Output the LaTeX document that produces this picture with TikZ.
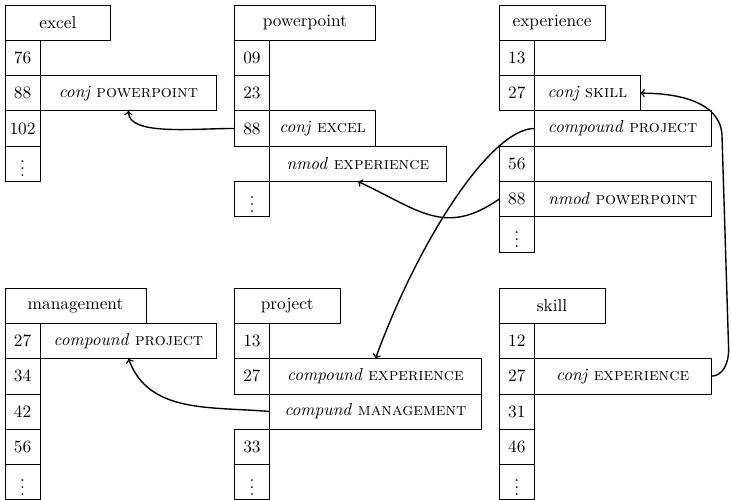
\documentclass[tikz,border=0pt]{standalone}
\usepackage{amsmath}
\usepackage{tikz}
\usetikzlibrary{positioning}
\usetikzlibrary{arrows}
\tikzstyle{arrow} = [thick,->,>=to]
\tikzstyle{word} = [draw, inner sep=0pt, outer sep=0pt, minimum height=0.717cm, minimum width=2.151cm]
\tikzstyle{longword} = [word, minimum width=2.868cm]
\tikzstyle{idx} = [draw, inner sep=0pt, outer sep=0pt, minimum height=0.717cm, minimum width=0.717cm]
\tikzstyle{rel} = [draw, inner sep=0pt, outer sep=0pt, minimum height=0.717cm]
\tikzstyle{relS} = [rel, minimum width=2.151cm]
\tikzstyle{relM} = [rel, minimum width=3.585cm]
\tikzstyle{relL} = [rel, minimum width=4.302cm]

\begin{document}
\begin{tikzpicture}
	\useasboundingbox (0,0) rectangle (14.85,-10.14);

	%Corners
	\coordinate (excelCorner) at (0.1,-0.1);
	\coordinate [right=4.66cm of excelCorner] (pptCorner);
	\coordinate [right=5.38cm of pptCorner] (expCorner);
	\coordinate [below=5.75cm of excelCorner] (mgmtCorner);
	\coordinate [below=5.75cm of pptCorner] (projCorner);
	\coordinate [below=5.75cm of expCorner] (skillCorner);

	%excel
	\node [word, below right=0cm and 0cm of excelCorner] (excelHead) {excel};
	\node [idx, below right=0cm and 0cm of excelHead.south west] (excel76) {76};
	\node [idx, below=0cm of excel76] (excel88) {88};
	\node [idx, below=0cm of excel88] (excel102) {102};
	\node [idx, below=0cm of excel102] (excelDots) {$\vdots$};
	\node [relM, right=0cm of excel88] (excelConj) {\textit{conj} \textsc{powerpoint}};

	%powerpoint
	\node [longword, below right=0cm and 0cm of pptCorner] (pptHead) {powerpoint};
	\node [idx, below right=0cm and 0cm of pptHead.south west] (ppt09) {09};
	\node [idx, below=0cm of ppt09] (ppt23) {23};
	\node [idx, below=0cm of ppt23] (ppt88) {88};
	\node [idx, below=0.717cm of ppt88] (pptDots) {$\vdots$};
	\node [relS, right=0cm of ppt88] (pptConj) {\textit{conj} \textsc{excel}};
	\node [relM, below right=0cm and 0cm of ppt88.south east] (pptNmod) {\textit{nmod} \textsc{experience}};

	%experience
	\node [word, below right=0cm and 0cm of expCorner] (expHead) {experience};
	\node [idx, below right=0cm and 0cm of expHead.south west] (exp13) {13};
	\node [idx, below=0cm of exp13] (exp27) {27};
	\node [idx, below=0.717cm of exp27] (exp56) {56};
	\node [idx, below=0cm of exp56] (exp88) {88};
	\node [idx, below=0cm of exp88] (expDots) {$\vdots$};
	\node [relS, right=0cm of exp27] (expConj) {\textit{conj} \textsc{skill}};
	\node [relM, below right=0cm and 0cm of exp27.south east] (expCompound) {\textit{compound} \textsc{project}};
	\node [relM, right=0cm of exp88] (expNmod) {\textit{nmod} \textsc{powerpoint}};

	%management
	\node [longword, below right=0cm and 0cm of mgmtCorner] (mgmtHead) {management};
	\node [idx, below right=0cm and 0cm of mgmtHead.south west] (mgmt27) {27};
	\node [idx, below=0cm of mgmt27] (mgmt34) {34};
	\node [idx, below=0cm of mgmt34] (mgmt42) {42};
	\node [idx, below=0cm of mgmt42] (mgmt56) {56};
	\node [idx, below=0cm of mgmt56] (mgmtDots) {$\vdots$};
	\node [relM, right=0cm of mgmt27] (mgmtCompound) {\textit{compound} \textsc{project}};

	%project
	\node [word, below right=0cm and 0cm of projCorner] (projHead) {project};
	\node [idx, below right=0cm and 0cm of projHead.south west] (proj13) {13};
	\node [idx, below=0cm of proj13] (proj27) {27};
	\node [idx, below=0.717cm of proj27] (proj33) {33};
	\node [idx, below=0cm of proj33] (projDots) {$\vdots$};
	\node [relL, right=0cm of proj27] (projCompound) {\textit{compound} \textsc{experience}};
	\node [relL, below right=0cm and 0cm of proj27.south east] (projCompund) {\textit{compund} \textsc{management}};

	%skill
	\node [word, below right=0cm and 0cm of skillCorner] (skillHead) {skill};
	\node [idx, below right=0cm and 0cm of skillHead.south west] (skill12) {12};
	\node [idx, below=0cm of skill12] (skill27) {27};
	\node [idx, below=0cm of skill27] (skill31) {31};
	\node [idx, below=0cm of skill31] (skill46) {46};
	\node [idx, below=0cm of skill46] (skillDots) {$\vdots$};
	\node [relM, right=0cm of skill27] (skillConj) {\textit{conj} \textsc{experience}};

	%Bends of the long arrow
	\coordinate [above right=0.53cm and 0.36cm of skillConj.east] (loopLow);
	\coordinate [below right=0.9cm and 1.66cm of expConj.east] (loopHigh);

	%Arrows
	\draw[arrow] (ppt88.west) to[out=180,in=-90,in looseness=0.6] (excelConj.south);
	\draw[arrow] (exp88.west) to[out=215,in=-25,looseness=1.2] (pptNmod.south);
	\draw[arrow] (expCompound.west) to[out=180,in=70,out looseness=0.4,in looseness=1.15] (projCompound.north);
	\draw[arrow] (projCompund.west) to[out=175,in=-70] (mgmtCompound.south);
	\draw[arrow] (skillConj.east) to[out=0,in=-90] (loopLow) -- (loopHigh) to[out=90,in=0] (expConj.east);
\end{tikzpicture}
\end{document}
